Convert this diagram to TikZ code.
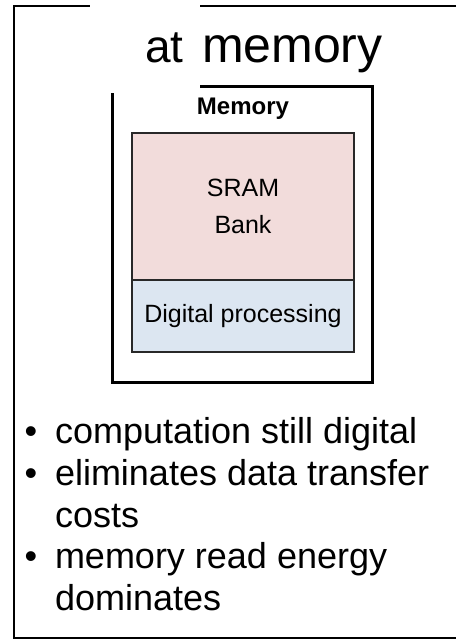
\documentclass[tikz,border=0pt]{standalone}
\usepackage{fontspec}
\setmainfont{Liberation Sans}
\definecolor{srampink}{RGB}{242,220,219}
\definecolor{digblue}{RGB}{220,230,241}
\definecolor{cellline}{RGB}{40,40,40}
\begin{document}
\begin{tikzpicture}[x=1pt,y=-1pt,
  frameline/.style={line width=2pt, draw=black},
  memline/.style={line width=3pt, draw=black},
  cell/.style={draw=cellline, line width=1.3pt, inner sep=0pt, outer sep=0pt, anchor=north west, align=center},
  plain/.style={inner sep=0pt, outer sep=0pt, anchor=base west},
  bul/.style={inner sep=0pt, outer sep=0pt, anchor=base, font=\fontsize{36}{41.75}\selectfont},
  bultxt/.style={inner sep=0pt, outer sep=0pt, anchor=base west, font=\fontsize{36}{41.75}\selectfont}]
\useasboundingbox (0,0) rectangle (456,644);
\fill[white] (0,0) rectangle (456,644);
% outer frame (left, top, bottom only)
\coordinate (ftr) at (456,6);
\coordinate (ftl) at (14,6);
\coordinate (fbl) at (14,638);
\coordinate (fbr) at (456,638);
\draw[frameline] (ftr) -- (ftl) -- (fbl) -- (fbr);
% memory box
\coordinate (mtl) at (112,87);
\coordinate (mbr) at (372,382);
\draw[memline] (mtl) rectangle (mbr);
% inner cells
\node[cell, fill=srampink, minimum width=222pt, minimum height=147pt] (sram) at (132,133) {};
\node[cell, fill=digblue, minimum width=222pt, minimum height=72pt] (dig) at (132,280) {};
% white patch covering title area
\fill[white] (90,0) rectangle (200,93);
% title
\node[plain, font=\fontsize{46}{50}\selectfont] (at) at (145,63) {at};
\node[plain, font=\fontsize{50}{54}\selectfont] (mem) at (202,63) {memory};
% labels
\node[inner sep=0pt, anchor=base, font=\fontsize{24}{28}\bfseries] (memlbl) at (243,115) {Memory};
\node[inner sep=0pt, align=center, font=\fontsize{25}{37}\selectfont] (sramtxt) at (sram.center) {SRAM\\Bank};
\node[inner sep=0pt, font=\fontsize{25}{30}\selectfont] (digtxt) at (dig.center) {Digital processing};
% bullets
\node[bul] (b1) at (31,443) {•};
\node[bultxt] (t1) at (55,443) {computation still digital};
\node[bul] (b2) at (31,485) {•};
\node[bultxt] (t2) at (55,485) {eliminates data transfer};
\node[bultxt] (t2b) at (55,527) {costs};
\node[bul] (b3) at (31,568) {•};
\node[bultxt] (t3) at (55,568) {memory read energy};
\node[bultxt] (t3b) at (55,610) {dominates};
\end{tikzpicture}
\end{document}
